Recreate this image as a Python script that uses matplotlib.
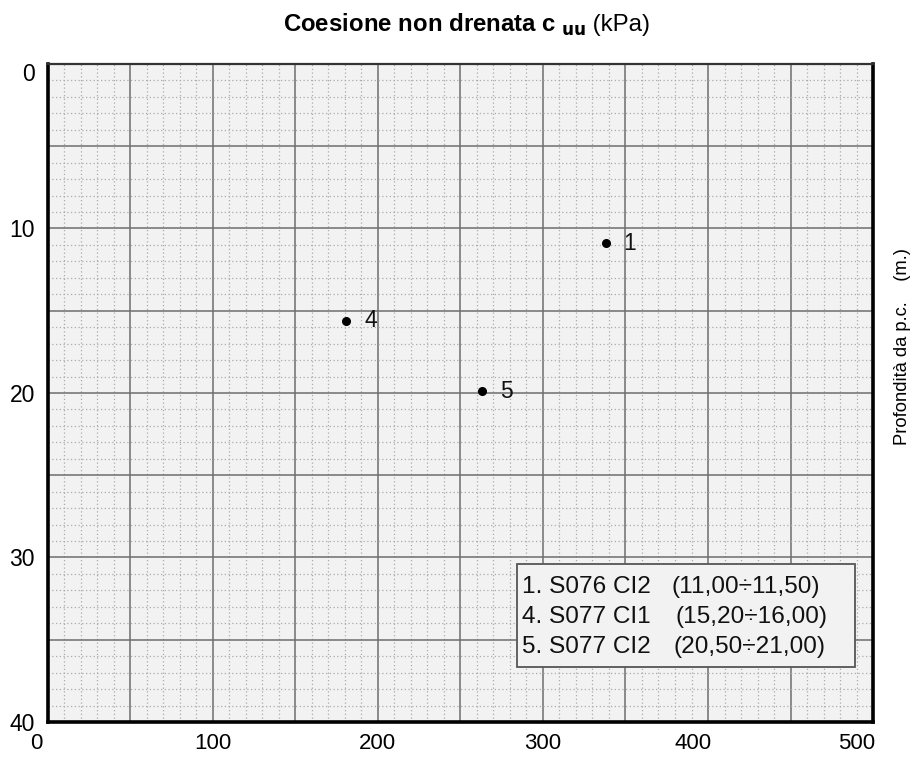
import matplotlib
matplotlib.use("Agg")
import matplotlib.pyplot as plt
from matplotlib.ticker import MultipleLocator
from matplotlib.transforms import ScaledTranslation
from matplotlib.patches import Rectangle

plt.rcParams['font.family'] = ['Liberation Sans', 'DejaVu Sans']

# Samples: label, undrained cohesion (kPa), depth (m)
point_ids = ["1", "4", "5"]
cu_kpa = [338, 181, 263]
depth_m = [10.9, 15.6, 19.9]

legend_names = ["1. S076 CI2", "4. S077 CI1", "5. S077 CI2"]
legend_ranges = ["(11,00÷11,50)", "(15,20÷16,00)", "(20,50÷21,00)"]

x_ticks = [0, 100, 200, 300, 400, 500]
x_tick_labels = ["0", "100", "200", "300", "400", "500"]
y_ticks = [0, 10, 20, 30, 40]
y_tick_labels = ["0", "10", "20", "30", "40"]

fig = plt.figure(figsize=(9.23, 7.58), dpi=100)
fig.patch.set_facecolor("white")
ax = fig.add_axes([0.0515, 0.0475, 0.8945, 0.8681])
ax.set_facecolor("#f2f2f2")

ax.set_xlim(0, 500)
ax.set_ylim(40, 0)

ax.xaxis.set_major_locator(MultipleLocator(50))
ax.xaxis.set_minor_locator(MultipleLocator(10))
ax.yaxis.set_major_locator(MultipleLocator(5))
ax.yaxis.set_minor_locator(MultipleLocator(1))

ax.grid(which="major", color="#6e6e6e", linewidth=1.1, linestyle="-")
ax.grid(which="minor", color="#ababab", linewidth=0.9, linestyle=(0, (1, 2)))
ax.set_axisbelow(True)

# Only labelled ticks are shown; grid keeps the finer spacing
ax.tick_params(which="both", length=0)
sec_x = ax.secondary_xaxis("bottom")
sec_x.set_xticks(x_ticks, x_tick_labels)
sec_x.tick_params(length=0, pad=8, labelsize=16)
sec_x.spines["bottom"].set_visible(False)
ax.set_xticklabels([])

sec_y = ax.secondary_yaxis("left")
sec_y.set_yticks(y_ticks, y_tick_labels)
sec_y.tick_params(length=0, pad=9, labelsize=16.5)
sec_y.spines["left"].set_visible(False)
ax.set_yticklabels([])

x_offsets = [-11, 0, 0, 0, -15, -17]
for lab, dx in zip(sec_x.get_xticklabels(), x_offsets):
    lab.set_transform(lab.get_transform() + ScaledTranslation(dx / 100, 0, fig.dpi_scale_trans))
y_offsets = [-8, 0, 0, 0, 0]
for lab, dy in zip(sec_y.get_yticklabels(), y_offsets):
    lab.set_transform(lab.get_transform() + ScaledTranslation(0, dy / 100, fig.dpi_scale_trans))

for side in ["left", "bottom", "right"]:
    ax.spines[side].set_linewidth(2.6)
    ax.spines[side].set_color("black")
ax.spines["top"].set_linewidth(1.6)
ax.spines["top"].set_color("#333333")

ax.plot(cu_kpa, depth_m, linestyle="none", marker="o", markersize=5.5, color="black", zorder=5)
for pid, x, y in zip(point_ids, cu_kpa, depth_m):
    ax.annotate(pid, (x, y), xytext=(13, 0), textcoords="offset points",
                ha="left", va="center", fontsize=16.5, color="#111111")

# Sample key box
ax.add_patch(Rectangle((0.5687, 0.0836), 0.4093, 0.1564, transform=ax.transAxes,
                       facecolor="#f2f2f2", edgecolor="#555555", linewidth=1.3, zorder=6))
row_y = [0.2052, 0.1596, 0.1140]
range_x = [0.7560, 0.7608, 0.7584]
for name, rng, yy, rx in zip(legend_names, legend_ranges, row_y, range_x):
    ax.text(0.5748, yy, name, transform=ax.transAxes, ha="left", va="center",
            fontsize=17.6, color="#111111", zorder=7)
    ax.text(rx, yy, rng, transform=ax.transAxes, ha="left", va="center",
            fontsize=17.6, color="#111111", zorder=7)

fig.text(0.635, 0.967, r"Coesione non drenata c $_{\mathbf{uu}}$", ha="right", va="center",
         fontsize=17.3, fontweight="bold")
fig.text(0.635, 0.967, " (kPa)", ha="left", va="center", fontsize=17.3)

fig.text(0.978, 0.543, "Profondità da p.c.    (m.)", rotation=90,
         ha="center", va="center", fontsize=13.2)

fig.savefig("out.png", dpi=100, facecolor="white")
